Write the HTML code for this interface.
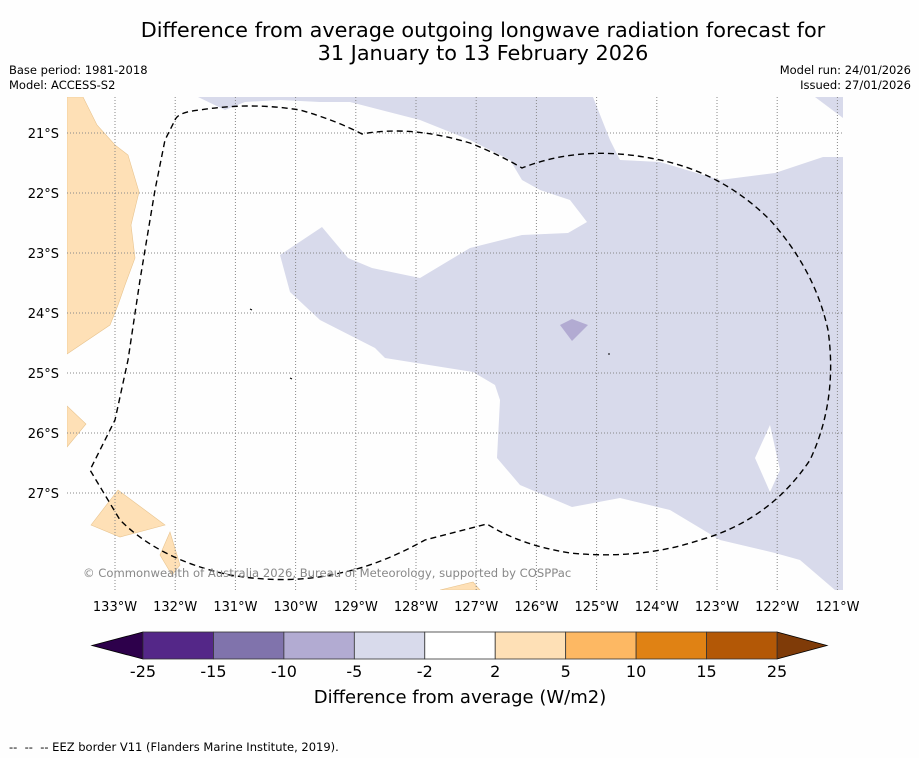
<!DOCTYPE html>
<html><head><meta charset="utf-8">
<style>
body{margin:0;background:#fff;font-family:"Liberation Sans","DejaVu Sans",sans-serif;}
#wrap{position:relative;width:919px;height:758px;overflow:hidden;background:#fefefe;}
.t{position:absolute;white-space:nowrap;}
</style></head>
<body>
<div id="wrap">
<div class="t" style="left:0;width:966px;top:19px;text-align:center;font-size:20.8px;line-height:23px;color:#000;font-family:'DejaVu Sans',sans-serif;">Difference from average outgoing longwave radiation forecast for<br>31 January to 13 February 2026</div>
<div class="t" style="left:9px;top:63px;font-size:11.5px;line-height:15px;font-family:'DejaVu Sans',sans-serif;">Base period: 1981-2018<br>Model: ACCESS-S2</div>
<div class="t" style="right:8px;top:63px;font-size:11.5px;line-height:15px;text-align:right;font-family:'DejaVu Sans',sans-serif;">Model run: 24/01/2026<br>Issued: 27/01/2026</div>
<div class="t" style="left:9px;top:740px;font-size:11.5px;font-family:'DejaVu Sans',sans-serif;">-- &nbsp;-- &nbsp;-- EEZ border V11 (Flanders Marine Institute, 2019).</div>
<svg id="svg" width="919" height="758" style="position:absolute;left:0;top:0" font-family="DejaVu Sans, Liberation Sans, sans-serif"></svg>
</div>
<script>
const lonTicks=[133,132,131,130,129,128,127,126,125,124,123,122,121];
const latTicks=[21,22,23,24,25,26,27];
const cbLevels=[-25,-15,-10,-5,-2,2,5,10,15,25];
const cbColors=["#542788","#8073ac","#b2abd2","#d8daeb","#ffffff","#fee0b6","#fdb863","#e08214","#b35806"];
const NS="http://www.w3.org/2000/svg";
const svg=document.getElementById('svg');
function el(t,a,p){const e=document.createElementNS(NS,t);for(const k in a)e.setAttribute(k,a[k]);(p||svg).appendChild(e);return e;}
const L=67,R=843,T=97,B=590;
function xs(lon){return 115+(133-lon)*60.2;}
function ys(lat){return 133+(lat-21)*60;}
const map=el('g',{});


const cp=el('clipPath',{id:'cp'});
el('rect',{x:L,y:T,width:R-L,height:B-T},cp);
const g=el('g',{'clip-path':'url(#cp)'},map);
const lav=el('path',{fill:'#d8daeb',d:'M198,97 L593,97 L610,140 L620,160 L660,162 L720,180 L775,173 L823,157 L843,157 L843,590 L835,590 L800,560 L775,553 L720,540 L695,525 L670,510 L620,498 L572,507 L520,485 L497,458 L500,400 L495,385 L473,372 L385,358 L375,348 L320,320 L290,292 L280,255 L322,227 L348,258 L372,268 L420,278 L470,248 L522,235 L568,233 L587,222 L570,200 L540,190 L522,180 L510,160 L470,140 L420,120 L350,102 L320,102 L280,100 L245,102 L225,110 Z M770,425 L755,458 L770,492 L780,470 Z'},g);


el('path',{fill:'#d8daeb',d:'M815,97 L843,97 L843,118 Z'},g);
el('path',{fill:'#b2abd2',d:'M560,325 L572,319 L588,325 L572,341 Z'},g);
const or=el('g',{fill:'#fee0b6',stroke:'#e8c48f','stroke-width':0.6},g);


el('path',{d:'M67,97 L83,97 L97,125 L115,145 L128,155 L139,192 L131,225 L135,258 L125,285 L118,305 L110,325 L67,354 Z'},or);
el('path',{d:'M67,406 L86,424 L67,447 Z'},or);
el('path',{d:'M91,525 L118,490 L165,525 L120,537 Z'},or);
el('path',{d:'M160,555 L170,532 L180,565 L172,575 Z'},or);
el('path',{d:'M440,590 L473,582 L480,590 Z'},or);
lonTicks.forEach(v=>{const l=el('line',{x1:xs(v),x2:xs(v),y1:T,y2:B,stroke:'#888','stroke-width':1,'stroke-dasharray':'1,2'},g);
});
latTicks.forEach(v=>{const l=el('line',{x1:L,x2:R,y1:ys(v),y2:ys(v),stroke:'#888','stroke-width':1,'stroke-dasharray':'1,2'},g);
});
const eez=el('path',{fill:'none',stroke:'#000','stroke-width':1.4,'stroke-dasharray':'6,4',d:'M175,120 Q178,112 200,110 Q250,102 300,110 Q335,120 362,134 Q410,125 470,143 Q500,155 522,168 Q580,145 650,158 Q720,170 770,220 Q815,270 828,330 Q838,400 810,460 Q770,520 700,540 Q640,560 570,553 Q520,545 487,524 L425,540 Q380,565 340,573 Q290,585 230,575 Q160,560 120,520 L90,470 L115,420 L128,360 L140,280 L155,190 L165,140 Z'},g);

el('path',{d:'M250,309 l2,1 M290,378 l2,1 M608,354 l2,0',stroke:'#000','stroke-width':1},g);
const cr=el('text',{x:83,y:577,'font-size':11.6,fill:'#888'},map);cr.textContent='© Commonwealth of Australia 2026, Bureau of Meteorology, supported by COSPPac';

lonTicks.forEach(v=>{const t=el('text',{x:xs(v),y:611,'font-size':13,'text-anchor':'middle'});t.textContent=v+'°W';
});
latTicks.forEach(v=>{const t=el('text',{x:59,y:ys(v)+5,'font-size':13,'text-anchor':'end'});t.textContent=v+'°S';
});
const cb=el('g',{});

const cbL=143,cbR=777,cbT=632,cbB=659,w=(cbR-cbL)/cbColors.length;
el('path',{d:`M${cbL},${cbT} L92,${(cbT+cbB)/2} L${cbL},${cbB} Z`,fill:'#2d004b',stroke:'#000','stroke-width':0.8},cb);
el('path',{d:`M${cbR},${cbT} L827,${(cbT+cbB)/2} L${cbR},${cbB} Z`,fill:'#7f3b08',stroke:'#000','stroke-width':0.8},cb);
cbColors.forEach((c,i)=>{const r=el('rect',{x:cbL+i*w,y:cbT,width:w,height:cbB-cbT,fill:c,stroke:'#333','stroke-width':0.8},cb);
});
cbLevels.forEach((v,i)=>{const t=el('text',{x:cbL+i*w,y:677,'font-size':16,'text-anchor':'middle'},cb);t.textContent=v;
});
const ct=el('text',{x:460,y:703,'font-size':18,'text-anchor':'middle'},cb);ct.textContent='Difference from average (W/m2)';

</script>
</body></html>
